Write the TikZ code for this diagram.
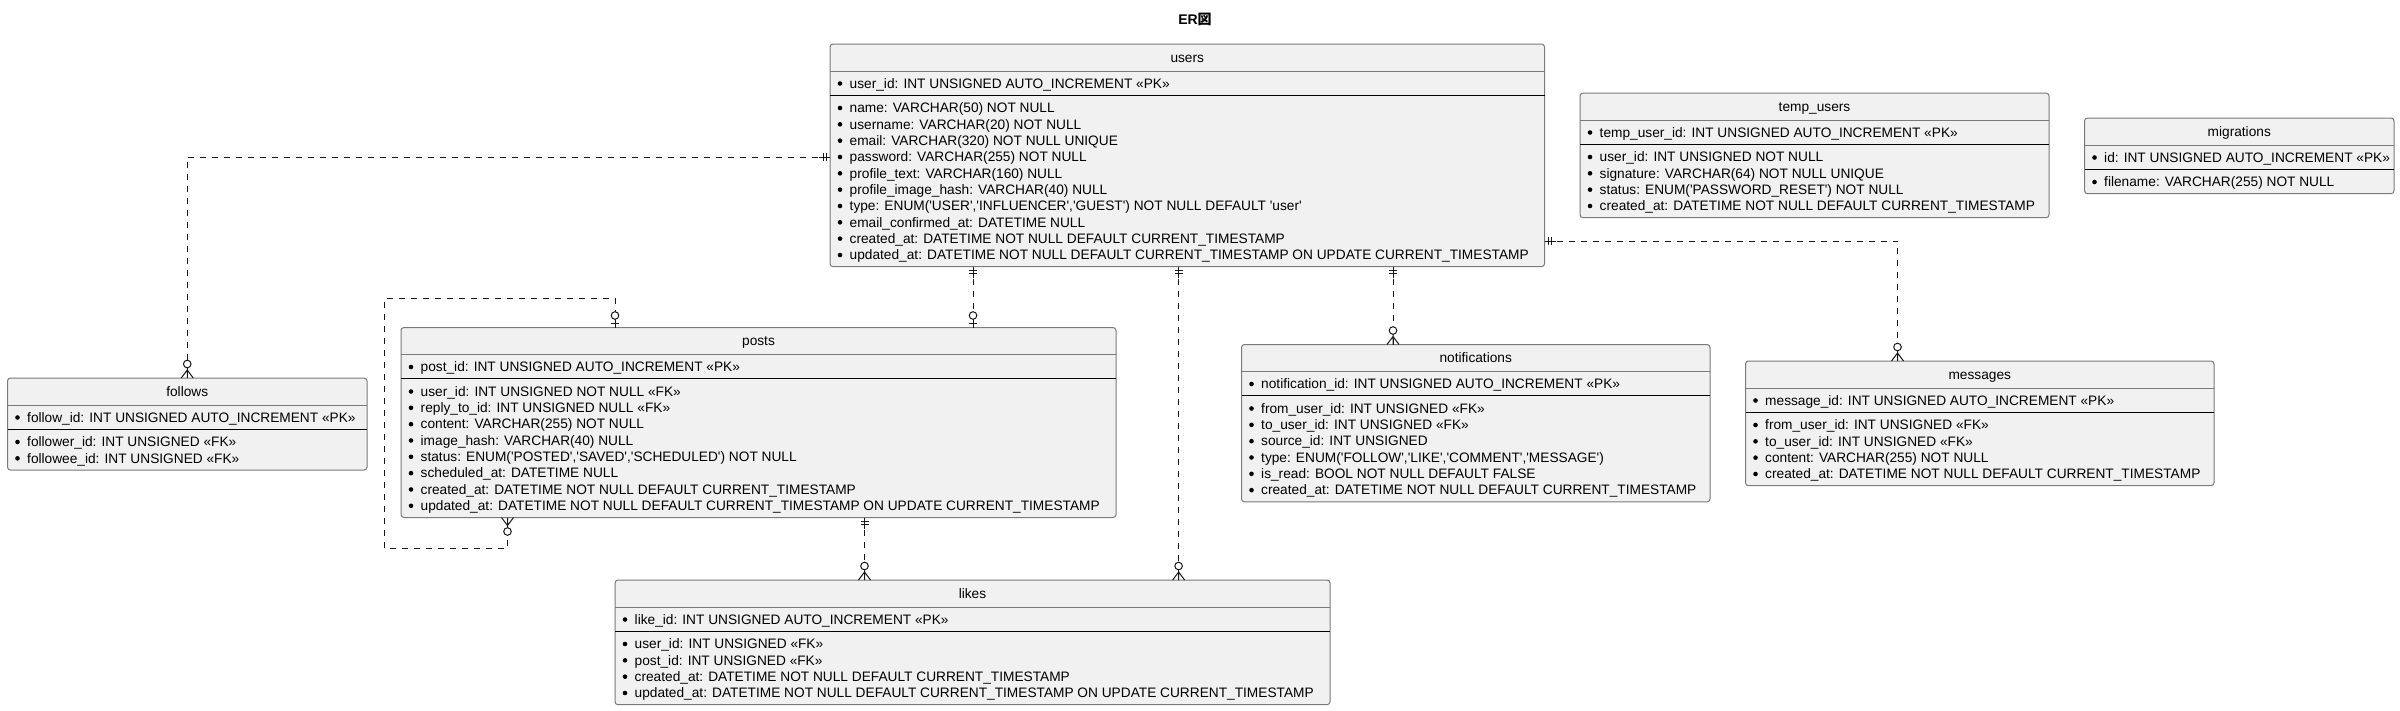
\documentclass[tikz,border=0pt]{standalone}
\usepackage{fontspec}
\setmainfont{Liberation Sans}
\newfontfamily\cjkfont{Noto Sans CJK JP}
\usetikzlibrary{calc}
\definecolor{erfill}{HTML}{F1F1F1}
\definecolor{erborder}{HTML}{7A7A7A}
\definecolor{erink}{HTML}{181818}
\newcommand\sq{\textquotesingle}
\newcommand\erent[8]{%
  \pgfmathsetmacro\erH{75.7+(#5-1)*16.33}%
  \pgfmathsetmacro\erW{#3-#2}%
  \node[erbox,minimum width=\erW pt,minimum height=\erH pt,anchor=north west] (#1) at (#2,#4) {};
  \draw[erdiv] ([yshift=-27pt]#1.north west) -- ([yshift=-27pt]#1.north east);
  \draw[ersep] ([yshift=-51pt]#1.north west) -- ([yshift=-51pt]#1.north east);
  \node[ertitle] (#1-t) at ([yshift=-18.3pt]#1.north) {#6};
  \node[erbul] (#1-bpk) at ([xshift=10pt,yshift=-39.5pt]#1.north west) {};
  \node[erfield] (#1-pk) at ([xshift=19.5pt,yshift=-44.3pt]#1.north west) {#7};
  \foreach \f [count=\i from 0] in {#8}{%
    \node[erbul] (#1-b\i) at ([xshift=10pt,yshift={-64pt-\i*16.33pt}]#1.north west) {};
    \node[erfield] (#1-f\i) at ([xshift=19.5pt,yshift={-68.8pt-\i*16.33pt}]#1.north west) {\f};
  }%
}
\newcommand\mkone[2]{\begin{scope}[shift={(#1)},rotate=#2]
  \draw[ermark] (0,0)--(11,0) (4,-4)--(4,4) (7,-4)--(7,4);\end{scope}}
\newcommand\mkzone[2]{\begin{scope}[shift={(#1)},rotate=#2]
  \draw[ermark] (0,0)--(9,0) (4.5,-4)--(4.5,4);
  \draw[ermark,fill=white] (12,0) circle[radius=3.8];\end{scope}}
\newcommand\mkmany[2]{\begin{scope}[shift={(#1)},rotate=#2]
  \draw[ermark] (0,0)--(10.5,0) (0,6)--(8,0)--(0,-6);
  \draw[ermark,fill=white] (14,0) circle[radius=3.8];\end{scope}}
\tikzset{
  erbox/.style={draw=erborder,fill=erfill,line width=1pt,rounded corners=3pt,inner sep=0pt,outer sep=0pt},
  erdiv/.style={draw=erborder,line width=1pt},
  ersep/.style={draw=black,line width=1pt},
  ertitle/.style={anchor=base,inner sep=0pt,font=\fontsize{13.7}{16}\selectfont,text=black},
  erfield/.style={anchor=base west,inner sep=0pt,font=\fontsize{13.7}{16}\selectfont,text=black},
  erbul/.style={circle,fill=black,draw=none,inner sep=0pt,minimum size=4.6pt},
  erline/.style={draw=erink,line width=1pt,dash pattern=on 6pt off 6pt},
  ermark/.style={draw=erink,line width=1pt,solid},
}
\begin{document}
\begin{tikzpicture}[x=1pt,y=-1pt]
\fill[white] (0,0) rectangle (2400,710);
\useasboundingbox (0,0) rectangle (2400,710);
\node[font=\bfseries\fontsize{14}{16}\selectfont,anchor=base,inner sep=0pt] (title) at (1195,24) {ER{\cjkfont 図}};

\erent{users}{830}{1544.5}{44}{10}{users}{user\_id: INT UNSIGNED AUTO\_INCREMENT «PK»}{%
{name: VARCHAR(50) NOT NULL},
{username: VARCHAR(20) NOT NULL},
{email: VARCHAR(320) NOT NULL UNIQUE},
{password: VARCHAR(255) NOT NULL},
{profile\_text: VARCHAR(160) NULL},
{profile\_image\_hash: VARCHAR(40) NULL},
{type: ENUM(\sq USER\sq,\sq INFLUENCER\sq,\sq GUEST\sq) NOT NULL DEFAULT \sq user\sq},
{email\_confirmed\_at: DATETIME NULL},
{created\_at: DATETIME NOT NULL DEFAULT CURRENT\_TIMESTAMP},
{updated\_at: DATETIME NOT NULL DEFAULT CURRENT\_TIMESTAMP ON UPDATE CURRENT\_TIMESTAMP}}

\erent{temp_users}{1580}{2049}{93}{4}{temp\_users}{temp\_user\_id: INT UNSIGNED AUTO\_INCREMENT «PK»}{%
{user\_id: INT UNSIGNED NOT NULL},
{signature: VARCHAR(64) NOT NULL UNIQUE},
{status: ENUM(\sq PASSWORD\_RESET\sq) NOT NULL},
{created\_at: DATETIME NOT NULL DEFAULT CURRENT\_TIMESTAMP}}

\erent{migrations}{2084.5}{2394}{118}{1}{migrations}{id: INT UNSIGNED AUTO\_INCREMENT «PK»}{%
{filename: VARCHAR(255) NOT NULL}}

\erent{follows}{7.5}{367}{378}{2}{follows}{follow\_id: INT UNSIGNED AUTO\_INCREMENT «PK»}{%
{follower\_id: INT UNSIGNED «FK»},
{followee\_id: INT UNSIGNED «FK»}}

\erent{posts}{401}{1116}{327.5}{8}{posts}{post\_id: INT UNSIGNED AUTO\_INCREMENT «PK»}{%
{user\_id: INT UNSIGNED NOT NULL «FK»},
{reply\_to\_id: INT UNSIGNED NULL «FK»},
{content: VARCHAR(255) NOT NULL},
{image\_hash: VARCHAR(40) NULL},
{status: ENUM(\sq POSTED\sq,\sq SAVED\sq,\sq SCHEDULED\sq) NOT NULL},
{scheduled\_at: DATETIME NULL},
{created\_at: DATETIME NOT NULL DEFAULT CURRENT\_TIMESTAMP},
{updated\_at: DATETIME NOT NULL DEFAULT CURRENT\_TIMESTAMP ON UPDATE CURRENT\_TIMESTAMP}}

\erent{notifications}{1241.5}{1710}{344.5}{6}{notifications}{notification\_id: INT UNSIGNED AUTO\_INCREMENT «PK»}{%
{from\_user\_id: INT UNSIGNED «FK»},
{to\_user\_id: INT UNSIGNED «FK»},
{source\_id: INT UNSIGNED},
{type: ENUM(\sq FOLLOW\sq,\sq LIKE\sq,\sq COMMENT\sq,\sq MESSAGE\sq)},
{is\_read: BOOL NOT NULL DEFAULT FALSE},
{created\_at: DATETIME NOT NULL DEFAULT CURRENT\_TIMESTAMP}}

\erent{messages}{1745.5}{2214}{361}{4}{messages}{message\_id: INT UNSIGNED AUTO\_INCREMENT «PK»}{%
{from\_user\_id: INT UNSIGNED «FK»},
{to\_user\_id: INT UNSIGNED «FK»},
{content: VARCHAR(255) NOT NULL},
{created\_at: DATETIME NOT NULL DEFAULT CURRENT\_TIMESTAMP}}

\erent{likes}{615}{1330}{580}{4}{likes}{like\_id: INT UNSIGNED AUTO\_INCREMENT «PK»}{%
{user\_id: INT UNSIGNED «FK»},
{post\_id: INT UNSIGNED «FK»},
{created\_at: DATETIME NOT NULL DEFAULT CURRENT\_TIMESTAMP},
{updated\_at: DATETIME NOT NULL DEFAULT CURRENT\_TIMESTAMP ON UPDATE CURRENT\_TIMESTAMP}}

% connector end points
\coordinate (uF) at ([yshift=-113pt]users.north west);
\coordinate (uP) at ([xshift=143pt]users.south west);
\coordinate (uL) at ([xshift=348.6pt]users.south west);
\coordinate (uN) at ([xshift=563pt]users.south west);
\coordinate (uM) at ([yshift=-197pt]users.north east);
\coordinate (pU) at (uP |- posts.north);
\coordinate (lU) at (uL |- likes.north);
\coordinate (nU) at (uN |- notifications.north);
\coordinate (mU) at ([xshift=152pt]messages.north west);
\coordinate (pTop) at ([xshift=214pt]posts.north west);
\coordinate (pBot) at ([xshift=106.5pt]posts.south west);
\coordinate (pL) at ([xshift=463.5pt]posts.south west);
\coordinate (lP) at (pL |- likes.north);
\coordinate (loopA) at (384,298);
\coordinate (loopB) at (384,548);

\draw[erline] (uF) -| (follows.north);
\draw[erline] (uP) -- (pU);
\draw[erline] (uL) -- (lU);
\draw[erline] (uN) -- (nU);
\draw[erline] (uM) -| (mU);
\draw[erline] (pL) -- (lP);
\draw[erline] (pTop) |- (loopA) -- (loopB) -| (pBot);

\mkone{uF}{180}\mkmany{follows.north}{90}
\mkone{uP}{-90}\mkzone{pU}{90}
\mkone{uL}{-90}\mkmany{lU}{90}
\mkone{uN}{-90}\mkmany{nU}{90}
\mkone{uM}{0}\mkmany{mU}{90}
\mkone{pL}{-90}\mkmany{lP}{90}
\mkzone{pTop}{90}\mkmany{pBot}{-90}
\end{tikzpicture}
\end{document}
